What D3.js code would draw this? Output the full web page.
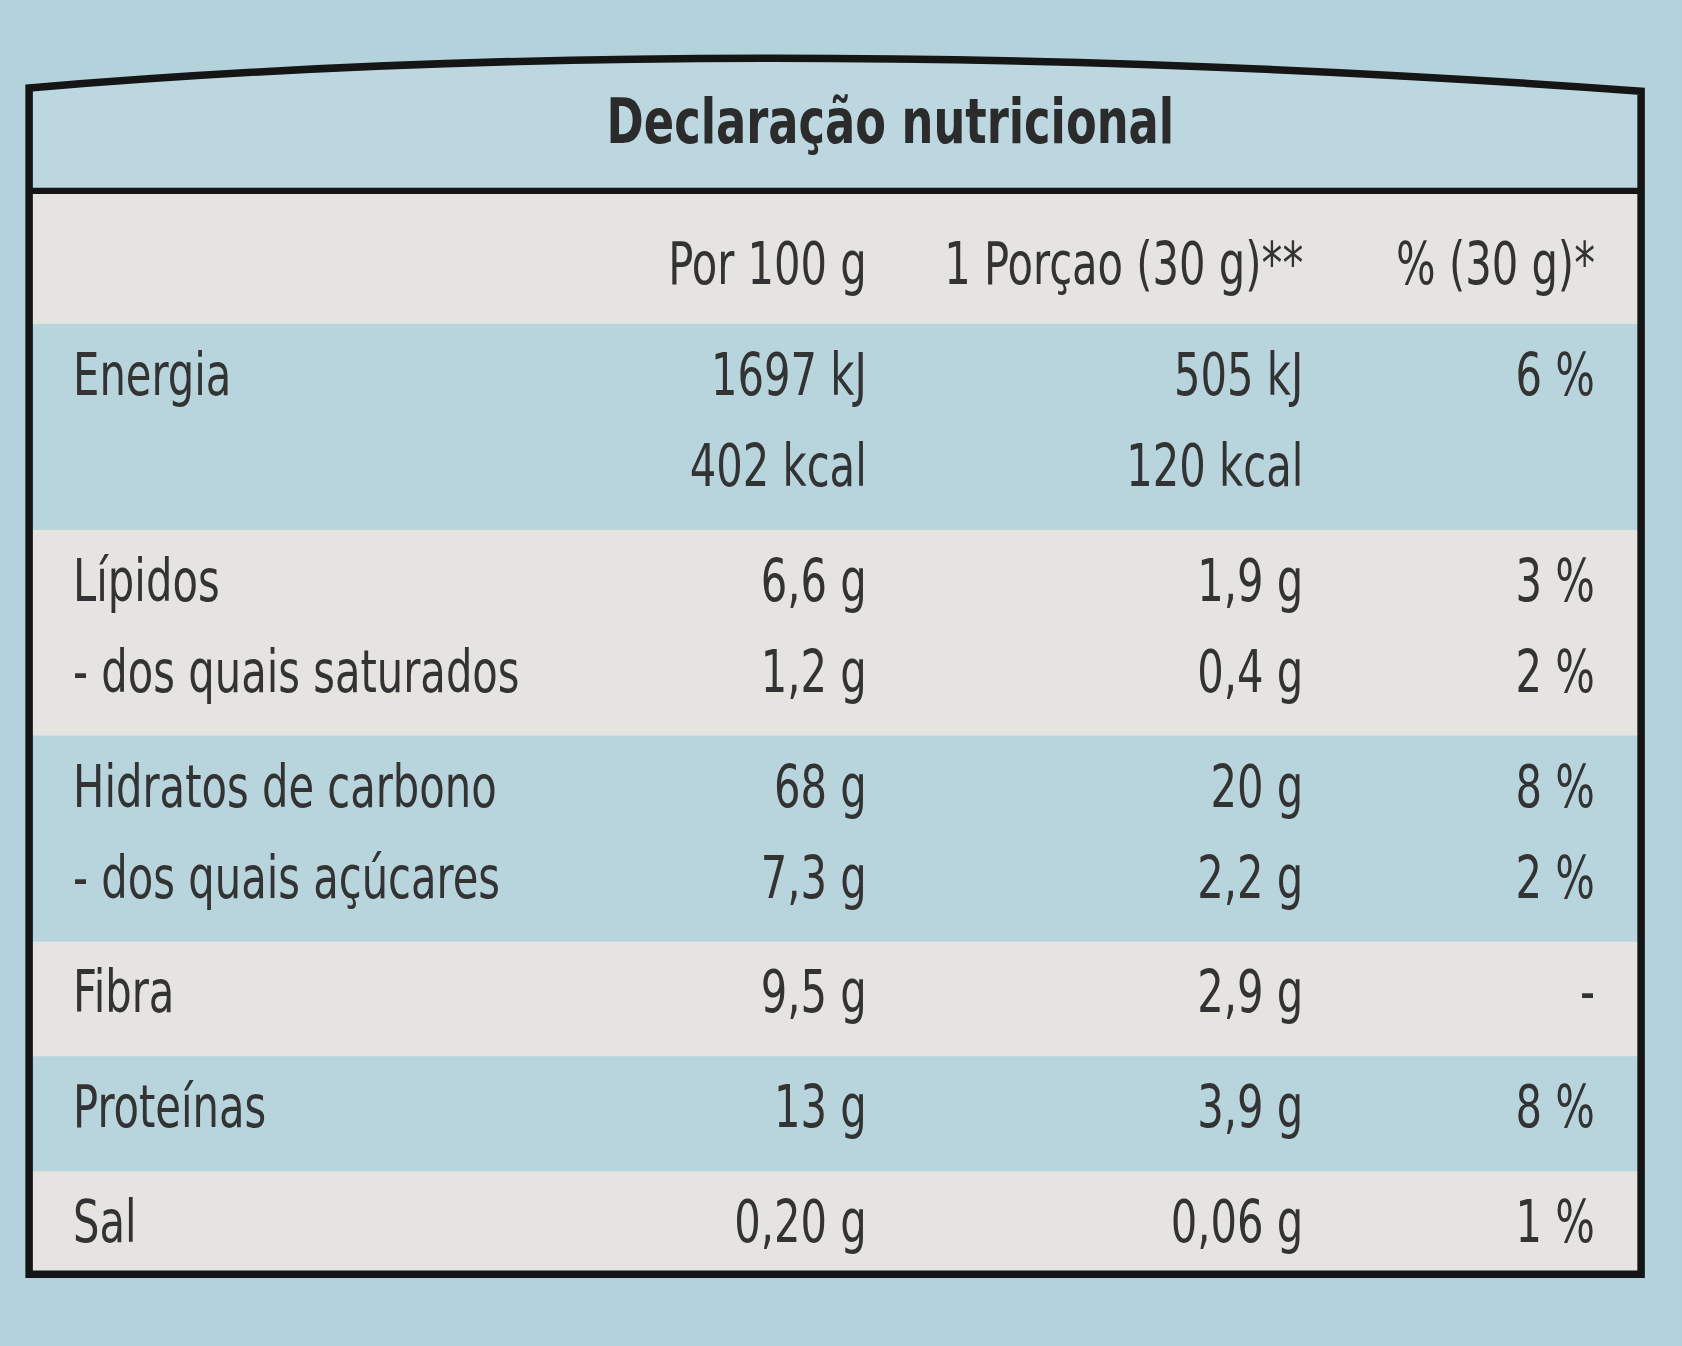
<!DOCTYPE html>
<html lang="pt">
<head>
<meta charset="UTF-8">
<title>Declaração nutricional</title>
<script src="https://d3js.org/d3.v7.min.js"></script>
<style>body{margin:0;background:#b4d2db;}</style>
</head>
<body>
<script>
// dados da tabela
var titulo = "Declaração nutricional";
var cabecalho = ["Por 100 g", "1 Porçao (30 g)**", "% (30 g)*"];
var nutrientes = ["Energia", "", "Lípidos", "- dos quais saturados", "Hidratos de carbono",
                  "- dos quais açúcares", "Fibra", "Proteínas", "Sal"];
var por100 = ["1697 kJ", "402 kcal", "6,6 g", "1,2 g", "68 g", "7,3 g", "9,5 g", "13 g", "0,20 g"];
var porcao = ["505 kJ", "120 kcal", "1,9 g", "0,4 g", "20 g", "2,2 g", "2,9 g", "3,9 g", "0,06 g"];
var percent = ["6 %", "", "3 %", "2 %", "8 %", "2 %", "-", "8 %", "1 %"];
var grupos = [2, 2, 2, 1, 1, 1]; // linhas por bloco

var W = 1568, H = 1255;
var svg = d3.select("body").append("svg")
  .attr("width", 1682).attr("height", 1346)
  .attr("viewBox", "0 0 " + W + " " + H);

var fonte = "'Liberation Sans Narrow','DejaVu Sans Condensed',sans-serif";
var aperto = 0.8; // fonte condensada
var esq = 27, dir = 1530, topo = 178, base = 1188;

// fundo
svg.append("rect").attr("width", W).attr("height", H).attr("fill", "#b4d2db");
var contorno = "M" + esq + "," + base + " L" + esq + ",82 Q700,25 " + dir + ",85 L" + dir + "," + base + " Z";
svg.append("path").attr("d", contorno).attr("fill", "#bcd7df");

// blocos
var alturaLinha = 85, folga = 22;
var y0 = 302, blocos = [], linhaY = [];
grupos.forEach(function(n, i) {
  var h = n * alturaLinha + folga;
  blocos.push({y: y0, h: h, cor: i % 2 ? "#e6e4e1" : "#b8d4dd"});
  for (var k = 0; k < n; k++) linhaY.push(y0 + 66 + k * alturaLinha);
  y0 += h;
});
blocos[blocos.length - 1].h = base - blocos[blocos.length - 1].y;

svg.append("rect").attr("x", esq).attr("y", topo).attr("width", dir - esq)
  .attr("height", 302 - topo).attr("fill", "#e6e4e1");
svg.selectAll("rect.bloco").data(blocos).enter().append("rect")
  .attr("class", "bloco")
  .attr("x", esq).attr("width", dir - esq)
  .attr("y", function(d) { return d.y; })
  .attr("height", function(d) { return d.h; })
  .attr("fill", function(d) { return d.cor; });

// moldura
svg.append("path").attr("d", contorno)
  .attr("fill", "none").attr("stroke", "#151515").attr("stroke-width", 7);
svg.append("line").attr("x1", esq).attr("x2", dir).attr("y1", topo).attr("y2", topo)
  .attr("stroke", "#151515").attr("stroke-width", 6);

var pos = function(px, py) { return "translate(" + px + "," + py + ") scale(" + aperto + ",1)"; };

svg.append("text").attr("transform", pos(830, 133)).attr("text-anchor", "middle")
  .attr("font-family", fonte).attr("font-weight", "bold").attr("font-size", 58)
  .attr("fill", "#2b2b2b").text(titulo);

// colunas
var x = d3.scaleOrdinal().domain([0, 1, 2]).range([808, 1215, 1487]);
var txt = function(sel) {
  return sel.attr("font-family", fonte).attr("font-size", 54).attr("fill", "#333");
};

txt(svg.selectAll("text.cab").data(cabecalho).enter().append("text").attr("class", "cab")
  .attr("transform", function(d, i) { return pos(x(i), 265); })
  .attr("text-anchor", "end").text(function(d) { return d; }));

txt(svg.selectAll("text.nut").data(nutrientes).enter().append("text").attr("class", "nut")
  .attr("transform", function(d, i) { return pos(68, linhaY[i]); })
  .text(function(d) { return d; }));

[por100, porcao, percent].forEach(function(col, c) {
  txt(svg.selectAll("text.c" + c).data(col).enter().append("text").attr("class", "c" + c)
    .attr("transform", function(d, i) { return pos(x(c), linhaY[i]); })
    .attr("text-anchor", "end").text(function(d) { return d; }));
});
</script>
</body>
</html>
